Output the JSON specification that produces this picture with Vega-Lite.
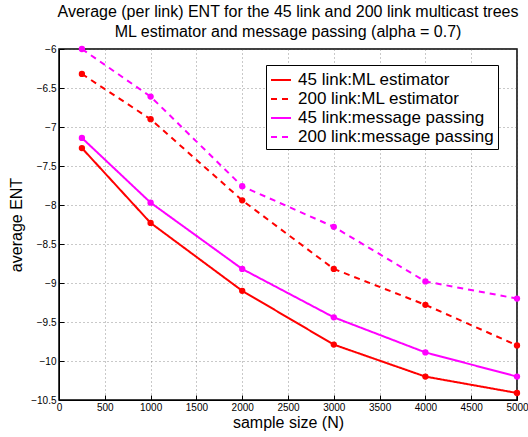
{
  "$schema": "https://vega.github.io/schema/vega-lite/v6.json",
  "width": 458,
  "height": 351,
  "autosize": {"type": "none"},
  "padding": {"left": 59, "top": 49, "right": 11, "bottom": 37},
  "background": "white",
  "title": {
    "text": ["Average (per link) ENT for the 45 link and 200 link multicast trees", "ML estimator and message passing (alpha = 0.7)"],
    "font": "Liberation Sans",
    "fontSize": 16,
    "fontWeight": "normal",
    "color": "black",
    "offset": 4,
    "lineHeight": 20,
    "anchor": "middle"
  },
  "config": {
    "view": {"stroke": "black", "strokeWidth": 1.5},
    "axis": {
      "labelFont": "Liberation Sans",
      "labelFontSize": 10,
      "labelColor": "black",
      "titleFont": "Liberation Sans",
      "titleFontSize": 16,
      "titleFontWeight": "normal",
      "titleColor": "black",
      "domainColor": "black",
      "tickColor": "black",
      "grid": true,
      "gridColor": "#555555",
      "gridDash": [1, 3],
      "gridWidth": 0.8,
      "gridOpacity": 0.8
    }
  },
  "data": {
    "values": [
      {"N": 250, "ENT": -7.27, "series": "45 link:ML estimator"},
      {"N": 1000, "ENT": -8.23, "series": "45 link:ML estimator"},
      {"N": 2000, "ENT": -9.1, "series": "45 link:ML estimator"},
      {"N": 3000, "ENT": -9.79, "series": "45 link:ML estimator"},
      {"N": 4000, "ENT": -10.2, "series": "45 link:ML estimator"},
      {"N": 5000, "ENT": -10.41, "series": "45 link:ML estimator"},
      {"N": 250, "ENT": -6.32, "series": "200 link:ML estimator"},
      {"N": 1000, "ENT": -6.9, "series": "200 link:ML estimator"},
      {"N": 2000, "ENT": -7.94, "series": "200 link:ML estimator"},
      {"N": 3000, "ENT": -8.82, "series": "200 link:ML estimator"},
      {"N": 4000, "ENT": -9.28, "series": "200 link:ML estimator"},
      {"N": 5000, "ENT": -9.8, "series": "200 link:ML estimator"},
      {"N": 250, "ENT": -7.14, "series": "45 link:message passing"},
      {"N": 1000, "ENT": -7.97, "series": "45 link:message passing"},
      {"N": 2000, "ENT": -8.82, "series": "45 link:message passing"},
      {"N": 3000, "ENT": -9.44, "series": "45 link:message passing"},
      {"N": 4000, "ENT": -9.89, "series": "45 link:message passing"},
      {"N": 5000, "ENT": -10.2, "series": "45 link:message passing"},
      {"N": 250, "ENT": -6.0, "series": "200 link:message passing"},
      {"N": 1000, "ENT": -6.61, "series": "200 link:message passing"},
      {"N": 2000, "ENT": -7.76, "series": "200 link:message passing"},
      {"N": 3000, "ENT": -8.28, "series": "200 link:message passing"},
      {"N": 4000, "ENT": -8.98, "series": "200 link:message passing"},
      {"N": 5000, "ENT": -9.2, "series": "200 link:message passing"}
    ]
  },
  "encoding": {
    "x": {
      "field": "N",
      "type": "quantitative",
      "scale": {"domain": [0, 5000], "nice": false, "zero": false},
      "axis": {"title": "sample size (N)", "format": "d", "values": [0, 500, 1000, 1500, 2000, 2500, 3000, 3500, 4000, 4500, 5000], "tickSize": -5, "labelPadding": 7, "titlePadding": 2, "labelFlush": false}
    },
    "y": {
      "field": "ENT",
      "type": "quantitative",
      "scale": {"domain": [-10.5, -6], "nice": false, "zero": false},
      "axis": {"title": "average ENT", "format": "~g", "values": [-10.5, -10, -9.5, -9, -8.5, -8, -7.5, -7, -6.5, -6], "tickSize": -5, "labelPadding": 8, "titlePadding": 6, "labelFlush": false}
    },
    "color": {
      "field": "series",
      "type": "nominal",
      "scale": {
        "domain": ["45 link:ML estimator", "200 link:ML estimator", "45 link:message passing", "200 link:message passing"],
        "range": ["#ff0000", "#ff0000", "#ff00ff", "#ff00ff"]
      },
      "legend": {
        "title": null,
        "orient": "none",
        "legendX": 207,
        "legendY": 16,
        "symbolType": "stroke",
        "symbolSize": 400,
        "symbolStrokeWidth": 2,
        "labelFont": "Liberation Sans",
        "labelFontSize": 17,
        "labelColor": "black",
        "labelLimit": 300,
        "labelOffset": 6,
        "rowPadding": 0,
        "padding": 4,
        "strokeColor": "black",
        "fillColor": "white"
      }
    },
    "strokeDash": {
      "field": "series",
      "type": "nominal",
      "scale": {
        "domain": ["45 link:ML estimator", "200 link:ML estimator", "45 link:message passing", "200 link:message passing"],
        "range": [[1, 0], [6, 5], [1, 0], [6, 5]]
      },
      "legend": null
    }
  },
  "layer": [
    {"mark": {"type": "line", "strokeWidth": 2}},
    {"mark": {"type": "point", "filled": true, "size": 40, "opacity": 1}, "encoding": {"strokeDash": {"value": [1, 0]}}}
  ]
}
